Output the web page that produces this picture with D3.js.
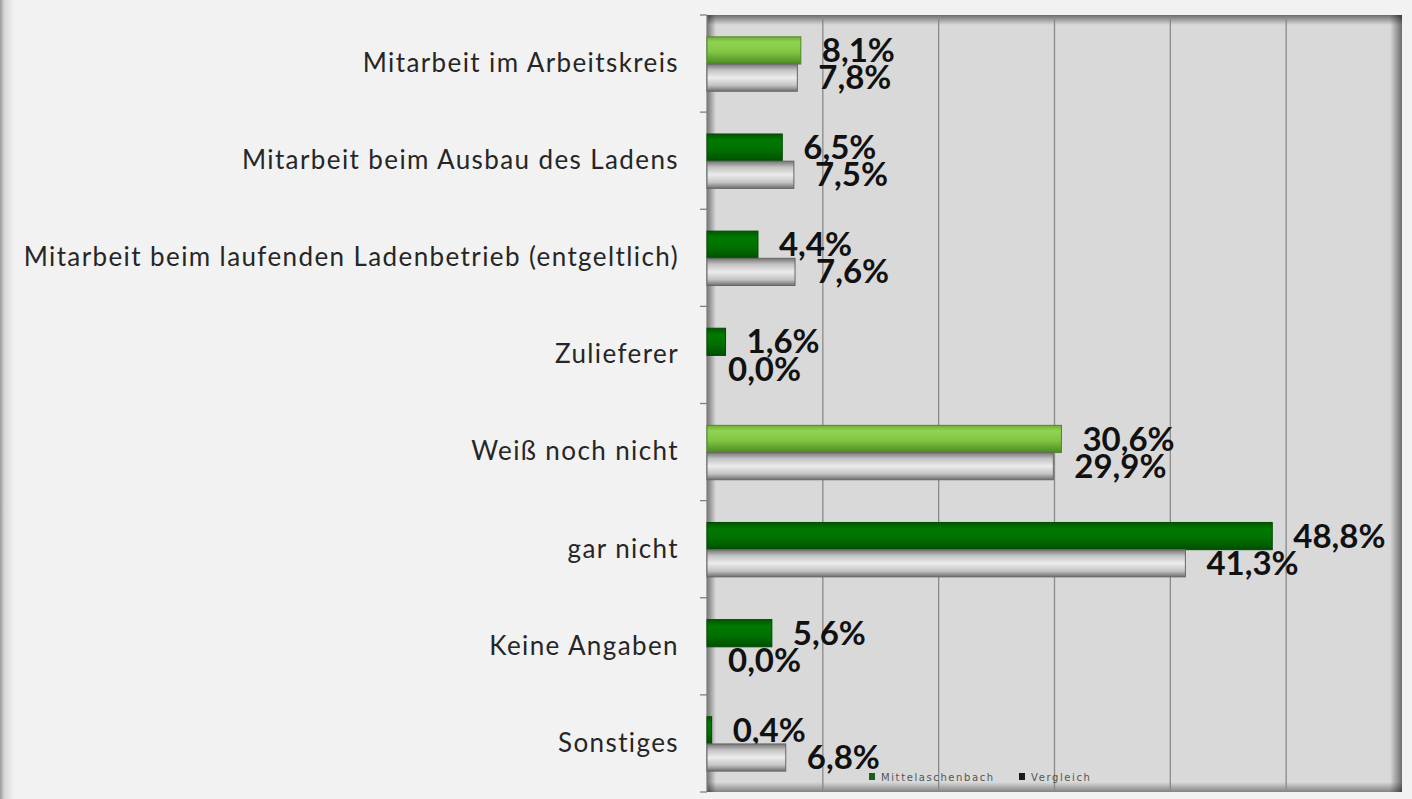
<!doctype html>
<html>
<head>
<meta charset="utf-8">
<title>Mitarbeit im Dorfladen</title>
<style type="text/css">
body { margin: 0; background: #f2f2f2; }
svg { display: block; }
</style>
<script src="https://cdnjs.cloudflare.com/ajax/libs/d3/7.8.5/d3.min.js"></script>
</head>
<body>
<script type="text/javascript">
var width = 1412;
var height = 799;

// data
var categories = [
	"Mitarbeit im Arbeitskreis",
	"Mitarbeit beim Ausbau des Ladens",
	"Mitarbeit beim laufenden Ladenbetrieb (entgeltlich)",
	"Zulieferer",
	"Weiß noch nicht",
	"gar nicht",
	"Keine Angaben",
	"Sonstiges"
];
var series = ["Mittelaschenbach", "Vergleich"];
var mittel = [8.1, 6.5, 4.4, 1.6, 30.6, 48.8, 5.6, 0.4];
var vergleich = [7.8, 7.5, 7.6, 0.0, 29.9, 41.3, 0.0, 6.8];
var xTicks = [10, 20, 30, 40, 50];

// rows whose green bar is drawn in the light green
var lightRows = [0, 4];

var plot = {left: 707, top: 15, right: 1402, bottom: 792};

var svg = d3.select("body").append("svg")
	.attr("width", width)
	.attr("height", height);

var defs = svg.append("defs");

function vgrad(id, stops) {
	var g = defs.append("linearGradient").attr("id", id)
		.attr("x1", 0).attr("y1", 0).attr("x2", 0).attr("y2", 1);
	stops.forEach(function(s) {
		g.append("stop").attr("offset", s[0]).attr("stop-color", s[1]);
	});
}
function hgrad(id, stops) {
	var g = defs.append("linearGradient").attr("id", id)
		.attr("x1", 0).attr("y1", 0).attr("x2", 1).attr("y2", 0);
	stops.forEach(function(s) {
		g.append("stop").attr("offset", s[0]).attr("stop-color", s[1]);
	});
}

vgrad("gLight", [[0, "#6fae36"], [0.2, "#92d352"], [0.55, "#80c643"], [1, "#4c8a22"]]);
vgrad("gDark", [[0, "#005800"], [0.25, "#007a00"], [0.6, "#007000"], [1, "#004f00"]]);
vgrad("gGray", [[0, "#747474"], [0.22, "#c2c2c2"], [0.5, "#ececec"], [0.78, "#c4c4c4"], [1, "#6e6e6e"]]);

// page shadow at the left edge
hgrad("pageLeft", [[0, "#9a9a9a"], [0.3, "#d6d6d6"], [1, "#f2f2f2"]]);
svg.append("rect").attr("x", 0).attr("y", 0).attr("width", 14).attr("height", height)
	.attr("fill", "url(#pageLeft)");

// plot area with inner shadows
svg.append("rect")
	.attr("x", plot.left).attr("y", plot.top)
	.attr("width", plot.right - plot.left).attr("height", plot.bottom - plot.top)
	.attr("fill", "#d9d9d9");

hgrad("shL", [[0, "rgba(0,0,0,0.45)"], [1, "rgba(0,0,0,0)"]]);
hgrad("shR", [[0, "rgba(0,0,0,0)"], [1, "rgba(0,0,0,0.5)"]]);
vgrad("shT", [[0, "rgba(0,0,0,0.5)"], [1, "rgba(0,0,0,0)"]]);
vgrad("shB", [[0, "rgba(0,0,0,0)"], [1, "rgba(0,0,0,0.4)"]]);

svg.append("rect").attr("x", plot.left).attr("y", plot.top).attr("width", 9)
	.attr("height", plot.bottom - plot.top).attr("fill", "url(#shL)");
svg.append("rect").attr("x", plot.right - 12).attr("y", plot.top).attr("width", 12)
	.attr("height", plot.bottom - plot.top).attr("fill", "url(#shR)");
svg.append("rect").attr("x", plot.left).attr("y", plot.top).attr("width", plot.right - plot.left)
	.attr("height", 10).attr("fill", "url(#shT)");
svg.append("rect").attr("x", plot.left).attr("y", plot.bottom - 10).attr("width", plot.right - plot.left)
	.attr("height", 10).attr("fill", "url(#shB)");

// scales
var x = d3.scaleLinear().domain([0, 60]).range([plot.left, plot.right]);
var y = d3.scaleBand().domain(categories).range([plot.top, plot.bottom]);
var inner = d3.scaleBand().domain(series)
	.range([y.bandwidth() * 0.225, y.bandwidth() * 0.785]);

// gridlines
svg.append("g").selectAll("line")
	.data(xTicks)
	.enter().append("line")
	.attr("x1", function(d) { return x(d); })
	.attr("x2", function(d) { return x(d); })
	.attr("y1", plot.top + 1)
	.attr("y2", plot.bottom)
	.style("stroke", "#8a8a8a")
	.style("stroke-width", 1.3);

// category axis
var yAxis = d3.axisLeft(y).tickSize(0).tickPadding(28);
var ax = svg.append("g").attr("transform", "translate(" + plot.left + ",0)").call(yAxis);
ax.select(".domain").remove();
ax.selectAll("text")
	.style("font-family", "Lato, 'Open Sans', sans-serif")
	.style("font-size", "26px")
	.style("letter-spacing", "1.4px")
	.style("fill", "#262626");

var bounds = categories.map(function(c) { return y(c); }).concat([plot.bottom]);
svg.append("g").selectAll("line")
	.data(bounds)
	.enter().append("line")
	.attr("x1", plot.left - 7).attr("x2", plot.left)
	.attr("y1", function(d) { return d; }).attr("y2", function(d) { return d; })
	.style("stroke", "#7f7f7f").style("stroke-width", 1.3);
svg.append("line")
	.attr("x1", plot.left).attr("x2", plot.left)
	.attr("y1", plot.top).attr("y2", plot.bottom)
	.style("stroke", "#7f7f7f").style("stroke-width", 1.3);

// bars
var rows = categories.map(function(c, i) {
	return {cat: c, i: i, values: [mittel[i], vergleich[i]]};
});

var groups = svg.append("g").selectAll("g")
	.data(rows)
	.enter().append("g")
	.attr("transform", function(d) { return "translate(0," + y(d.cat) + ")"; });

var bars = groups.selectAll("g.bar")
	.data(function(d) {
		return series.map(function(s, k) {
			return {series: s, k: k, row: d.i, value: d.values[k]};
		});
	})
	.enter().append("g").attr("class", "bar");

bars.append("rect")
	.attr("x", x(0))
	.attr("y", function(d) { return inner(d.series); })
	.attr("width", function(d) { return x(d.value) - x(0); })
	.attr("height", inner.bandwidth())
	.attr("fill", function(d) {
		if (d.k === 1) return "url(#gGray)";
		return lightRows.indexOf(d.row) >= 0 ? "url(#gLight)" : "url(#gDark)";
	})
	.style("stroke", function(d) {
		if (d.value === 0) return "none";
		if (d.k === 1) return "#666";
		return lightRows.indexOf(d.row) >= 0 ? "#4c8a22" : "#004a00";
	})
	.style("stroke-width", 1);

bars.append("text")
	.attr("x", function(d) { return x(d.value) + 21; })
	.attr("y", function(d) { return inner(d.series) + inner.bandwidth() - 2; })
	.text(function(d) { return d.value.toFixed(1).replace(".", ",") + "%"; })
	.style("font-family", "Lato, 'Open Sans', sans-serif")
	.style("font-weight", "bold")
	.style("font-size", "33px")
	.style("fill", "#111");

// legend
var legendX = [869, 1019];
var legendColor = ["#1f5a1f", "#1a1a1a"];
var leg = svg.append("g").selectAll("g")
	.data(series)
	.enter().append("g")
	.attr("transform", function(d, i) { return "translate(" + legendX[i] + ",773)"; });
leg.append("rect").attr("width", 6).attr("height", 7)
	.attr("fill", function(d, i) { return legendColor[i]; });
leg.append("text")
	.attr("x", 12).attr("y", 8)
	.text(function(d) { return d; })
	.style("font-family", "'DejaVu Sans', sans-serif")
	.style("font-size", "10px")
	.style("letter-spacing", "1.6px")
	.style("fill", "#555");
</script>
</body>
</html>
